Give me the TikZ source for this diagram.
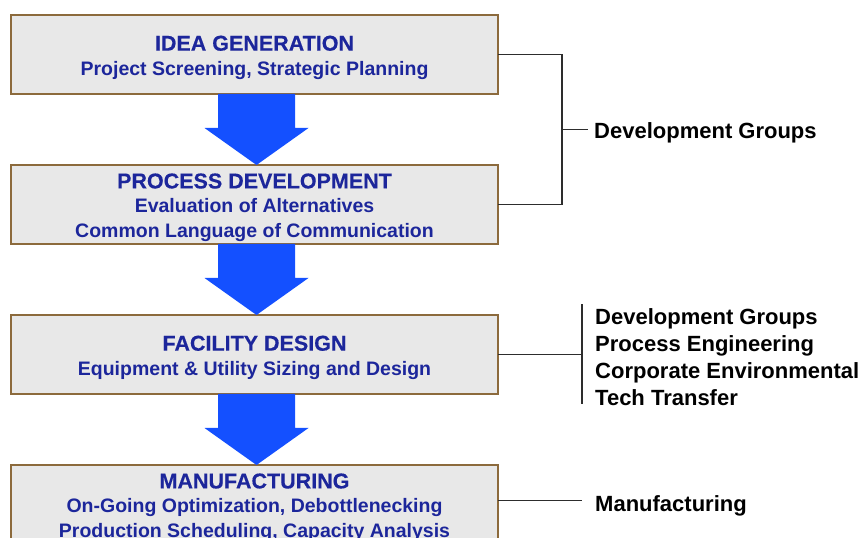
\documentclass[tikz,border=0pt]{standalone}
\usepackage{fontspec}
\setmainfont{Liberation Sans}
\newfontfamily\titlefont[FakeBold=0.3]{Liberation Sans}
\usetikzlibrary{positioning,calc}

\definecolor{boxfill}{RGB}{232,232,232}
\definecolor{boxline}{RGB}{140,106,60}
\definecolor{stagetext}{RGB}{28,38,155}
\definecolor{flowblue}{RGB}{20,80,255}
\definecolor{bracketgray}{RGB}{45,45,45}

\begin{document}
\begin{tikzpicture}[x=1pt,y=1pt,
  stage/.style={draw=boxline, line width=1.5pt, fill=boxfill, minimum width=487pt,
    minimum height=79pt, inner sep=0pt, outer sep=0pt, align=center, text=stagetext,
    font=\fontsize{19.5}{24.5}\selectfont\bfseries},
  group/.style={align=left, inner sep=0pt, text=black,
    font=\fontsize{22}{27}\selectfont\bfseries},
  bracket/.style={draw=bracketgray, line width=1.3pt}]

\newcommand*{\stagetitle}[1]{\rule{0pt}{21pt}{\titlefont\fontsize{21.5}{24.5}\selectfont #1}}

\useasboundingbox (0,0) rectangle (865,538);
\clip (0,0) rectangle (865,538);

%stages:
\node[stage] (idea) at (254.5,483.5)
  {\stagetitle{IDEA GENERATION}\\ Project Screening, Strategic Planning};
\node[stage, below=71pt of idea] (proc)
  {\stagetitle{PROCESS DEVELOPMENT}\\ Evaluation of Alternatives\\ Common Language of Communication};
\node[stage, below=71pt of proc] (fac)
  {\stagetitle{FACILITY DESIGN}\\ Equipment \& Utility Sizing and Design};
\node[stage, below=71pt of fac] (manu)
  {\stagetitle{MANUFACTURING}\\ On-Going Optimization, Debottlenecking\\ Production Scheduling, Capacity Analysis};

%block arrows between stages
\foreach \a/\b in {idea/proc, proc/fac, fac/manu}
  \fill[flowblue] ($(\a.south)+(-36.5,0)$) -- ++(0,-34) -- ++(-13.5,0)
    -- ($(\b.north)+(2,0)$) -- ($(\a.south)+(54,-34)$) -- ++(-13.5,0)
    -- ($(\a.south)+(40.5,0)$) -- cycle;

%groups involved:
\node[group, anchor=base west] (devgrp) at (594,399.3) {Development Groups};
\node[group, anchor=west] (teams) at (595,180.5)
  {Development Groups\\ Process Engineering\\ Corporate Environmental\\ Tech Transfer};
\node[group, anchor=west] (mfg) at (595,31.8) {Manufacturing};

%brackets
\coordinate (b1) at ($(idea.east)+(64,0)$);
\draw[bracket] (idea.east) -- (b1) |- (proc.east);
\coordinate (b1mid) at ($(b1)!0.5!(b1 |- proc.east)$);
\draw[bracket] (b1mid) -- ($(b1mid -| devgrp.west)+(-6,0)$);

\coordinate (b3) at ($(fac.east)+(84,0)$);
\draw[bracket] (fac.east) -- (b3);
\draw[bracket] ($(b3)+(0,50)$) -- ($(b3)+(0,-50)$);

\draw[bracket] ([yshift=4pt]manu.east) -- ($([yshift=4pt]manu.east -| mfg.west)+(-13,0)$);

\end{tikzpicture}
\end{document}
